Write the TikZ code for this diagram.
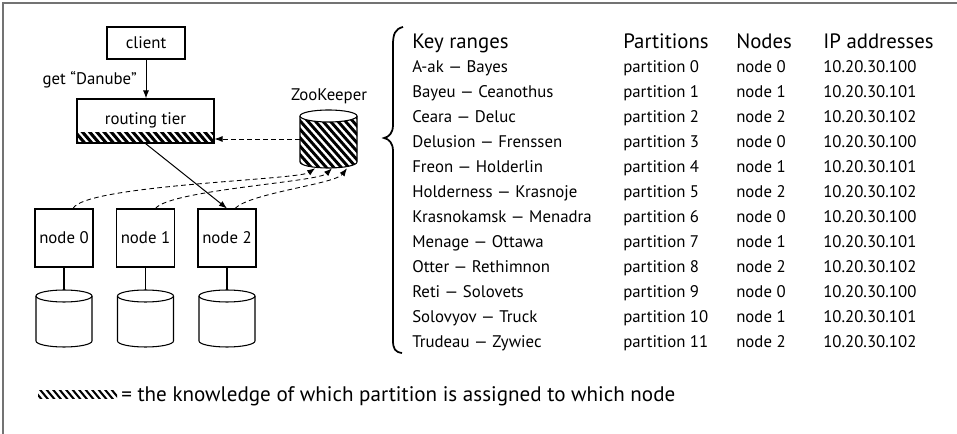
\documentclass[tikz,border=0pt]{standalone}
\usepackage{fontspec}
\setmainfont{PT Sans}
\usetikzlibrary{arrows.meta}
\newcommand\rowfont{\fontsize{12.6pt}{14pt}\selectfont}
\newcommand\headfont{\fontsize{15.6pt}{17pt}\selectfont}
\newcommand\legfont{\fontsize{15.8pt}{17pt}\selectfont}
\begin{document}
\begin{tikzpicture}[x=0.75pt,y=-0.75pt,
  box/.style={draw, line width=0.8pt, inner sep=0pt, font=\rowfont},
  cell/.style={anchor=base west, inner sep=0pt, font=\rowfont},
  head/.style={anchor=base west, inner sep=0pt, font=\headfont},
  lab/.style={inner sep=0pt, font=\rowfont},
  arr/.style={line width=0.75pt, -{Latex[length=6pt,width=4.5pt]}},
  darr/.style={arr, line width=0.65pt, dash pattern=on 3.5pt off 2.5pt},
  stripe/.style={line width=2.3pt},
  ]
\useasboundingbox (0,0) rectangle (957,434);
\draw[line width=1pt, black!55] (3,434) -- (3,3) -- (957,3);

% client and routing tier
\node[box, minimum width=78*0.75pt, minimum height=32*0.75pt] (client) at (146,43) {client};
\begin{scope}
  \clip (77,133) rectangle (214,143);
  \foreach \x in {60,67.2,...,220} \draw[stripe] (\x,131) -- (\x+12,145);
\end{scope}
\node[box, minimum width=137*0.75pt, minimum height=44*0.75pt] (routing) at (145.5,121) {\raisebox{3pt}{routing tier}};
\draw[arr] (client.south) -- (client.south |- routing.north);
\node[lab, anchor=east] (get) at (137,80) {get “Danube”};

% ZooKeeper
\node[lab] (zklabel) at (329,96) {ZooKeeper};
\begin{scope}
  \clip (300,116) -- (300,162) arc[start angle=180,end angle=0,x radius=28.5,y radius=6] -- (357,116) arc[start angle=0,end angle=180,x radius=28.5,y radius=6] -- cycle;
  \foreach \x in {226,233.5,...,370} \draw[line width=2.2pt] (\x,105) -- (\x+62,175);
\end{scope}
\draw[line width=0.8pt] (300,116) -- (300,162) arc[start angle=180,end angle=0,x radius=28.5,y radius=6] -- (357,116);
\draw[line width=0.8pt, fill=white] (328.5,116) ellipse[x radius=28.5, y radius=6];
\node[inner sep=0pt, minimum width=57*0.75pt, minimum height=58*0.75pt] (zk) at (328.5,139) {};
\draw[darr] (zk.west) -- (zk.west -| routing.east);

% storage nodes
\foreach \i/\cx in {0/64,1/145.5,2/227}{
  \node[box, minimum width=58*0.75pt, minimum height=58*0.75pt] (n\i) at (\cx,238) {node \i};
  \draw[line width=0.8pt] (\cx-28,296) -- (\cx-28,341) arc[start angle=180,end angle=0,x radius=28,y radius=6] -- (\cx+28,296);
  \draw[line width=0.8pt] (\cx,296) ellipse[x radius=28, y radius=6];
  \node[inner sep=0pt, minimum width=56*0.75pt, minimum height=57*0.75pt] (d\i) at (\cx,318.5) {};
  \draw[line width=0.8pt] (n\i) -- (d\i);
}
\draw[arr] (routing.south) -- (n2.north);

% dashed links to ZooKeeper
\draw[darr] ([xshift=6.75pt]n0.north) .. controls (85,185) and (298,180) .. ([xshift=-10pt]zk.south);
\draw[darr] ([xshift=7.5pt]n1.north) .. controls (170,190) and (318,182) .. ([xshift=2.6pt]zk.south);
\draw[darr] ([xshift=6pt]n2.north) .. controls (250,193) and (335,184) .. ([xshift=13.9pt]zk.south);

% brace
\draw[line width=1.3pt] (403,27) .. controls (395,29) and (393,34) .. (393,45) -- (393,125)
  .. controls (393,133) and (389,137) .. (384,138) .. controls (389,139) and (393,143) .. (393,151)
  -- (393,340) .. controls (393,349) and (395,352) .. (402,353);

% table
\node[head] (hk) at (412,49) {Key ranges};
\node[head] (hp) at (623,49) {Partitions};
\node[head] (hn) at (736,49) {Nodes};
\node[head] (hi) at (823,49) {IP addresses};
\foreach \i/\k in {0/A-ak — Bayes,1/Bayeu — Ceanothus,2/Ceara — Deluc,3/Delusion — Frenssen,
  4/Freon — Holderlin,5/Holderness — Krasnoje,6/Krasnokamsk — Menadra,7/Menage — Ottawa,
  8/Otter — Rethimnon,9/Reti — Solovets,10/Solovyov — Truck,11/Trudeau — Zywiec}{
  \pgfmathtruncatemacro\m{mod(\i,3)}
  \pgfmathsetmacro\yy{73+25*\i}
  \node[cell] (kr\i) at (412,\yy) {\k};
  \node[cell] (pa\i) at (623,\yy) {partition \i};
  \node[cell] (nd\i) at (736,\yy) {node \m};
  \node[cell] (ip\i) at (823,\yy) {10.20.30.10\m};
}

% legend
\begin{scope}
  \clip (38,391) rectangle (117,399);
  \foreach \x in {20,26.5,...,125} \draw[line width=1.5pt] (\x,389) -- (\x+10,401);
\end{scope}
\node[anchor=west, inner sep=0pt, font=\legfont] (legend) at (121,396) {= the knowledge of which partition is assigned to which node};
\end{tikzpicture}
\end{document}
